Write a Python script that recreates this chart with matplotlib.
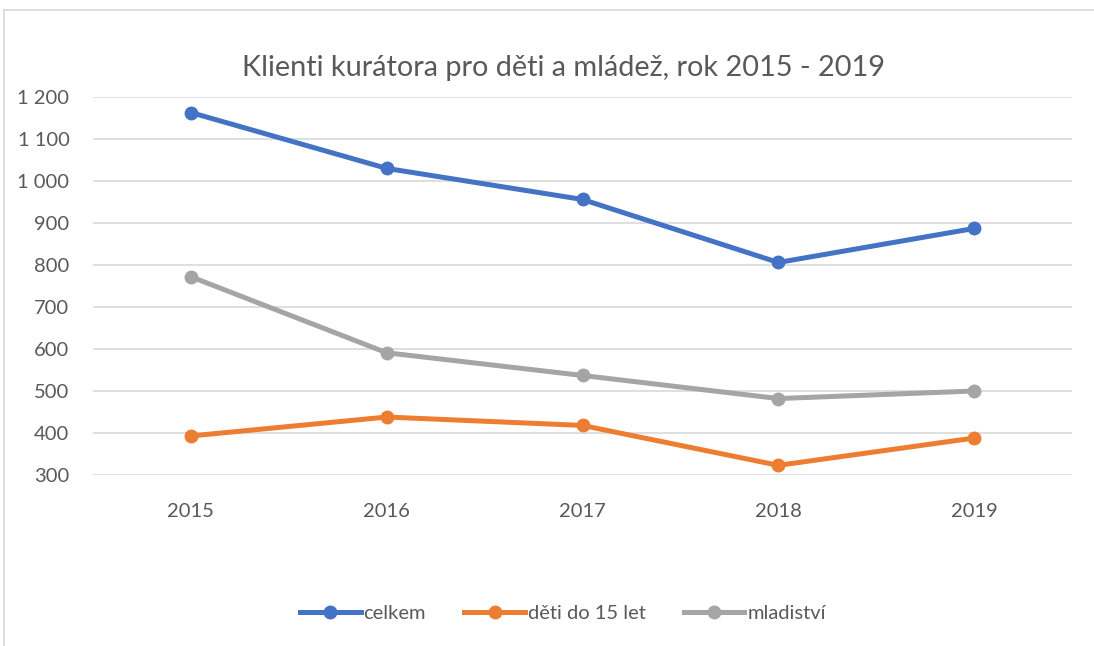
import matplotlib.pyplot as plt
from matplotlib.lines import Line2D
from matplotlib.ticker import FuncFormatter

# data
years = ["2015", "2016", "2017", "2018", "2019"]
celkem = [1163, 1030, 956, 806, 887]
deti = [393, 438, 418, 323, 388]
mladistvi = [772, 591, 537, 482, 500]

series_names = ["celkem", "děti do 15 let", "mladiství"]
colors = ["#4472C4", "#ED7D31", "#A5A5A5"]
text_color = "#595959"

plt.rcParams['font.family'] = ['Lato', 'DejaVu Sans']

fig = plt.figure(figsize=(10.94, 6.46), dpi=100)
W, H = 1094, 646

# light frame (top and left edge only are visible)
frame_top = 1 - 10 / H
frame_left = 4 / W
fig.lines.append(Line2D([frame_left, 1], [frame_top, frame_top], transform=fig.transFigure,
                        color="#D9D9D9", linewidth=1.2))
fig.lines.append(Line2D([frame_left, frame_left], [0, frame_top], transform=fig.transFigure,
                        color="#D9D9D9", linewidth=1.2))

ax = fig.add_axes([93 / W, 1 - 475 / H, (1072 - 93) / W, (475 - 97) / H])

x = list(range(len(years)))
for vals, col in zip([celkem, deti, mladistvi], colors):
    ax.plot(x, vals, color=col, linewidth=3.6, marker="o", markersize=9,
            solid_capstyle="round", zorder=3)

ax.set_xlim(-0.5, len(years) - 0.5)
ax.set_ylim(300, 1200)
ax.set_yticks(range(300, 1201, 100))
ax.yaxis.set_major_formatter(FuncFormatter(lambda v, p: f"{int(v):,}".replace(",", " ")))
ax.set_xticks(x)
ax.set_xticklabels(years)

ax.grid(axis="y", color="#D9D9D9", linewidth=1.2)
ax.set_axisbelow(True)
for s in ax.spines.values():
    s.set_visible(False)
ax.tick_params(length=0, colors=text_color, labelsize=14.5)
ax.tick_params(axis="x", pad=20)
ax.tick_params(axis="y", pad=17)

fig.text(564 / W, 1 - 68 / H, "Klienti kurátora pro děti a mládež, rok 2015 - 2019",
         ha="center", va="center", fontsize=20.8, color=text_color)

handles = [Line2D([0], [0], color=c, linewidth=3.6, marker="o", markersize=9)
           for c in colors]
fig.legend(handles, series_names, loc="center", bbox_to_anchor=(563 / W, 1 - 613 / H),
           ncol=3, frameon=False, fontsize=14.5, labelcolor=text_color,
           handlelength=3.0, handletextpad=0.15, columnspacing=1.9)

fig.savefig("out.png", dpi=100)
